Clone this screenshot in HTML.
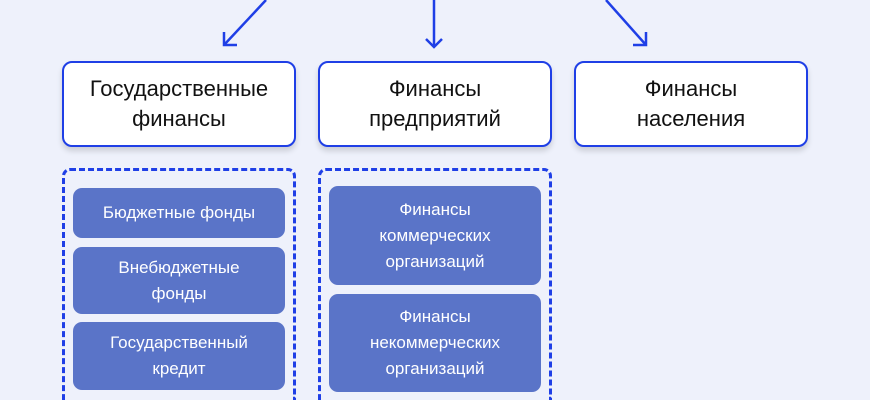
<!DOCTYPE html>
<html style="width:870px;height:400px;overflow:hidden"><head><meta charset="utf-8"><style>
body{margin:0;width:870px;height:400px;background:#eef1fb;position:relative;overflow:hidden;font-family:"Liberation Sans","DejaVu Sans",sans-serif}
.top{position:absolute;top:61px;width:230px;height:82px;border:2px solid #1f3fe6;border-radius:10px;background:#fff;box-shadow:0 4px 6px rgba(0,0,0,.15);display:flex;align-items:center;justify-content:center;text-align:center;font-size:22px;line-height:30px;color:#111}
.dash{position:absolute;top:168px;width:234px;height:232px;border:3px dashed #1f3fe6;border-bottom:none;border-radius:8px 8px 0 0;box-sizing:border-box}
.in{position:absolute;background:#5a74c8;border-radius:9px;color:#fff;display:flex;align-items:center;justify-content:center;text-align:center;font-size:17px;line-height:26px}
</style></head><body>
<svg width="870" height="60" style="position:absolute;left:0;top:0" fill="none" stroke="#1f3fe6" stroke-width="2.5">
<line x1="266" y1="0" x2="224" y2="45"/><polyline points="224,32 224,45 237,45"/>
<line x1="434" y1="0" x2="434" y2="47"/><polyline points="426,39 434,47 442,39"/>
<line x1="606" y1="0" x2="646" y2="45"/><polyline points="633,45 646,45 646,32"/>
</svg>
<div class="top" style="left:62px">Государственные<br>финансы</div>
<div class="top" style="left:318px">Финансы<br>предприятий</div>
<div class="top" style="left:574px">Финансы<br>населения</div>
<div class="dash" style="left:62px"></div>
<div class="dash" style="left:318px"></div>
<div class="in" style="left:73px;top:188px;width:212px;height:50px">Бюджетные фонды</div>
<div class="in" style="left:73px;top:247px;width:212px;height:67px">Внебюджетные<br>фонды</div>
<div class="in" style="left:73px;top:322px;width:212px;height:68px">Государственный<br>кредит</div>
<div class="in" style="left:329px;top:186px;width:212px;height:99px">Финансы<br>коммерческих<br>организаций</div>
<div class="in" style="left:329px;top:294px;width:212px;height:98px">Финансы<br>некоммерческих<br>организаций</div>
</body></html>
